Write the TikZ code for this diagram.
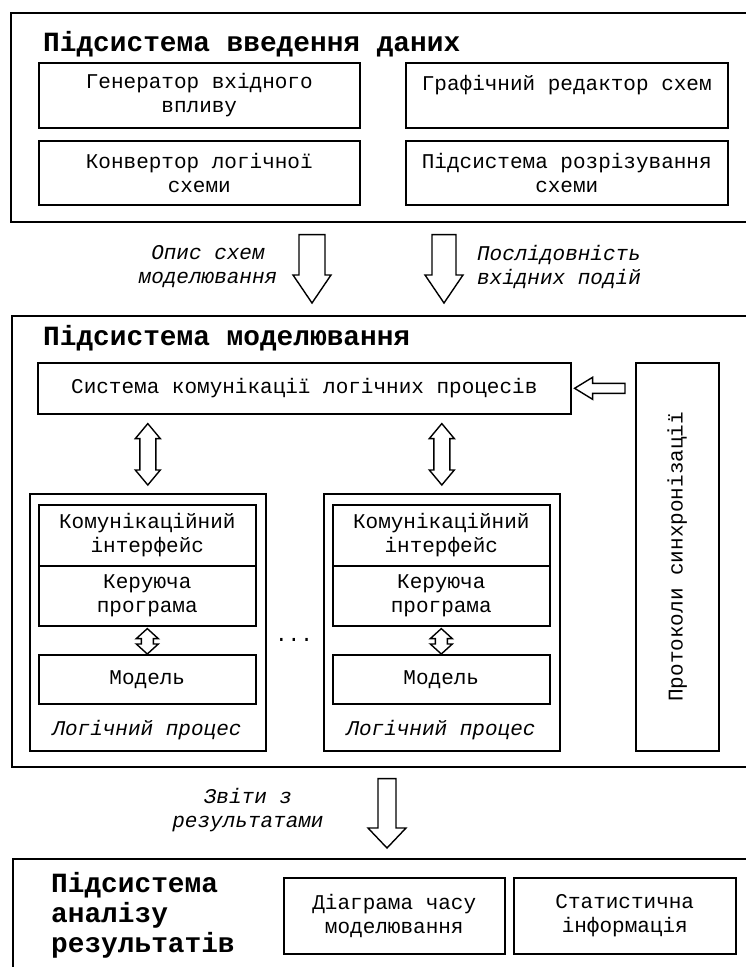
\documentclass[tikz,border=0pt]{standalone}
\usepackage{fontspec}
\setmonofont{Liberation Mono}
\usetikzlibrary{calc}

\newcommand*{\bodyfont}{\ttfamily\fontsize{21}{24}\selectfont}
\newcommand*{\headfont}{\ttfamily\bfseries\fontsize{27.8}{30}\selectfont}

% hollow block arrows: #1 tail, #2 tip, #3 shaft half width, #4 head half width, #5 head length
\newcommand*{\fatdown}[5]{%
	\draw[fat] let \p1=(#1), \p2=(#2) in
	  (\x2-#3,\y1) -- (\x2+#3,\y1) -- (\x2+#3,\y2+#5) -- (\x2+#4,\y2+#5)
	  -- (\x2,\y2) -- (\x2-#4,\y2+#5) -- (\x2-#3,\y2+#5) -- cycle;
}
\newcommand*{\fatupdown}[5]{%
	\draw[fat] let \p1=(#1), \p2=(#2) in
	  (\x2,\y1) -- (\x2+#4,\y1-#5) -- (\x2+#3,\y1-#5) -- (\x2+#3,\y2+#5)
	  -- (\x2+#4,\y2+#5) -- (\x2,\y2) -- (\x2-#4,\y2+#5) -- (\x2-#3,\y2+#5)
	  -- (\x2-#3,\y1-#5) -- (\x2-#4,\y1-#5) -- cycle;
}
\newcommand*{\fatleft}[5]{%
	\draw[fat] let \p1=(#1), \p2=(#2) in
	  (\x1,\y2+#3) -- (\x2+#5,\y2+#3) -- (\x2+#5,\y2+#4) -- (\x2,\y2)
	  -- (\x2+#5,\y2-#4) -- (\x2+#5,\y2-#3) -- (\x1,\y2-#3) -- cycle;
}

\begin{document}
\begin{tikzpicture}
[
	x=1pt,
	y=-1pt,
	outer/.style={draw,line width=1.6pt,inner sep=0pt,anchor=north west},
	box/.style={draw,line width=1.6pt,inner sep=0pt,anchor=north west,align=center,font=\bodyfont},
	head/.style={anchor=west,inner sep=0pt,align=left,font=\headfont},
	note/.style={inner sep=0pt,align=center,font=\bodyfont\itshape},
	fat/.style={draw,line width=1.4pt,fill=white}
]

	\useasboundingbox (0,0) rectangle (746,967);
	\clip (0,0) rectangle (746,967);

	% input subsystem
	\node[outer, minimum width=760pt, minimum height=209pt] (inbox) at (10,12) {};
	\node[head] (intitle) at (43,44) {Підсистема введення даних};
	\node[box, minimum width=321pt, minimum height=65pt] (gen) at (38,62) {Генератор вхідного\\впливу};
	\node[box, minimum width=322pt, minimum height=65pt] (ged) at (405,62) {Графічний редактор схем\\\mbox{}};
	\node[box, minimum width=321pt, minimum height=64pt] (conv) at (38,140) {Конвертор логічної\\схеми};
	\node[box, minimum width=322pt, minimum height=64pt] (cut) at (405,140) {Підсистема розрізування\\схеми};

	\coordinate (opis) at (312,303);
	\coordinate (posl) at (444,303);
	\fatdown{[yshift=-12pt]inbox.south}{opis}{13}{19}{28}
	\fatdown{[yshift=-12pt]inbox.south}{posl}{12}{19}{28}
	\node[note] (opislbl) at (208,266.5) {Опис схем\\моделювання};
	\node[note] (posllbl) at (559,266.5) {Послідовність\\вхідних подій};

	% modelling subsystem
	\node[outer, minimum width=760pt, minimum height=451pt] (model) at (11,315) {};
	\node[head] (modtitle) at (43,338) {Підсистема моделювання};
	\node[box, minimum width=533pt, minimum height=51pt] (syscom) at (37,362) {Система комунікації логічних процесів};
	\node[box, minimum width=83pt, minimum height=388pt] (prot) at (635,362) {};
	\node[font=\bodyfont, rotate=90, inner sep=0pt] (protlbl) at (prot.center) {Протоколи синхронізації};
	\fatleft{[xshift=-10pt]prot.west}{[xshift=3pt]syscom.east}{5}{11}{18}

	\foreach \i/\x in {1/29, 2/323} {
		\node[outer, minimum width=236pt, minimum height=257pt] (lp\i) at (\x,493) {};
		\node[box, minimum width=217pt, minimum height=61pt] (com\i) at (\x+9,504) {Комунікаційний\\інтерфейс};
		\node[box, minimum width=217pt, minimum height=60pt] (ctl\i) at (\x+9,565) {Керуюча\\програма};
		\node[box, minimum width=217pt, minimum height=49pt] (mdl\i) at (\x+9,654) {Модель};
		\node[note] (lpname\i) at (\x+118,730) {Логічний процес};
		\fatupdown{[yshift=-9pt]syscom.south}{[yshift=8pt]lp\i.north}{8}{12.5}{15}
		\fatupdown{[yshift=-2pt]ctl\i.south}{mdl\i.north}{6}{11}{10}
	}
	\node[font=\bodyfont, inner sep=0pt] (dots) at (294,640) {...};

	% results
	\coordinate (zvit) at (387,848);
	\fatdown{[yshift=-11pt]model.south}{zvit}{9}{19}{20}
	\node[note] (zvitlbl) at (248,810.5) {Звіти з\\результатами};

	\node[outer, minimum width=760pt, minimum height=150pt] (outbox) at (12,858) {};
	\node[head] (outtitle) at (51,915) {Підсистема\\аналізу\\результатів};
	\node[box, minimum width=221pt, minimum height=76pt] (diag) at (283,877) {Діаграма часу\\моделювання};
	\node[box, minimum width=222pt, minimum height=76pt] (stat) at (513,877) {Статистична\\інформація};

\end{tikzpicture}
\end{document}
